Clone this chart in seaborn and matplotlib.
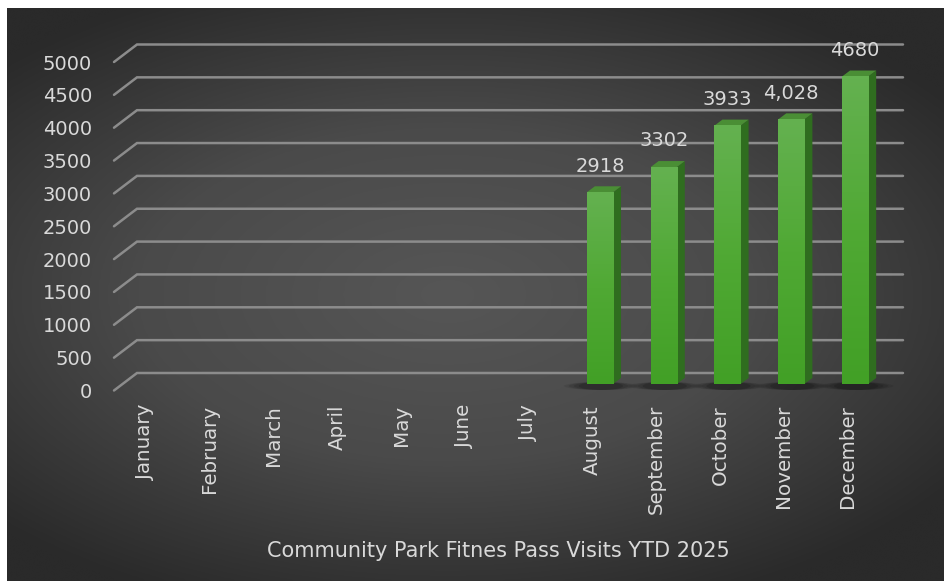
import numpy as np
import pandas as pd
import matplotlib
matplotlib.use("Agg")
import matplotlib.pyplot as plt
import seaborn as sns
from matplotlib.patches import Polygon, Ellipse
from matplotlib.colors import LinearSegmentedColormap
from matplotlib.transforms import ScaledTranslation

# data (Jan-Jul have no value)
months = ["January", "February", "March", "April", "May", "June", "July",
          "August", "September", "October", "November", "December"]
visits = [np.nan] * 7 + [2918, 3302, 3933, 4028, 4680]
value_labels = [""] * 7 + ["2918", "3302", "3933", "4,028", "4680"]
yticks = list(range(0, 5001, 500))
title = "Community Park Fitnes Pass Visits YTD 2025"

df = pd.DataFrame({"Month": months, "Visits": visits})

sns.set_style("white")
plt.rcParams["font.family"] = ["DejaVu Sans"]
txt_c = "#d9d9d9"
grid_c = "#8c8c8c"

W, H = 945, 581
fig = plt.figure(figsize=(W / 100, H / 100), dpi=100, facecolor="white")

# dark radial background
bg = fig.add_axes([7 / W, 0, (W - 7) / W, (H - 8) / H])
yy, xx = np.mgrid[0:1:300j, 0:1:500j]
r = np.sqrt(((xx - 0.47) / 0.85) ** 2 + ((yy - 0.5) / 0.75) ** 2)
bg_cmap = LinearSegmentedColormap.from_list("bg", ["#565656", "#4a4a4a", "#2a2a2a"])
bg.imshow(r, cmap=bg_cmap, vmin=0, vmax=0.78, aspect="auto",
          extent=[0, 1, 0, 1], interpolation="bicubic")
bg.axis("off")

# main axes = plane of the bar front faces
ax = fig.add_axes([121.5 / W, 197 / H, 765.5 / W, 328.5 / H])
ax.patch.set_alpha(0)
sns.barplot(data=df, x="Month", y="Visits", order=months, width=0.41,
            color="#4ea832", saturation=1, errorbar=None, linewidth=0,
            zorder=4, ax=ax)
ax.set_xlim(-0.5, 11.5)
ax.set_ylim(0, 5000)
for s in ax.spines.values():
    s.set_visible(False)
ax.set_xlabel("")
ax.set_ylabel("")

# pixel -> data conversion
p0 = ax.transData.transform((0, 0))
ppx = ax.transData.transform((1, 0))[0] - p0[0]
ppy = (ax.transData.transform((0, 1000))[1] - p0[1]) / 1000

# back-wall gridlines with the little floor diagonal
for t in yticks:
    bx = -0.5 + 15.5 / ppx
    by = t + 11 / ppy
    ax.plot([-0.5 - 7.5 / ppx, bx, 11.5 + 16 / ppx], [t - 6.5 / ppy, by, by],
            color=grid_c, lw=1.8, clip_on=False, zorder=1,
            solid_joinstyle="miter")

# 3d look for the bars
front_cmap = LinearSegmentedColormap.from_list("front", ["#64b150", "#50a934", "#42a026"])
grad = np.linspace(0, 1, 100).reshape(-1, 1)
dx, dy = 8 / ppx, 6 / ppy
bars = ax.containers[0]
for p in bars:
    x0, w, h = p.get_x(), p.get_width(), p.get_height()
    if not np.isfinite(h) or h <= 0:
        continue
    # soft floor shadow
    for k, a in [(48, 0.08), (38, 0.1), (28, 0.12), (18, 0.14)]:
        ax.add_patch(Ellipse((x0 + w / 2 + 1 / ppx, -2 / ppy), w + k / ppx, 8 / ppy,
                             facecolor="black", edgecolor="none", alpha=a,
                             clip_on=False, zorder=2))
    ax.imshow(grad, cmap=front_cmap, extent=[x0, x0 + w, 0, h], aspect="auto",
              zorder=4.5, interpolation="bicubic")
    ax.add_patch(Polygon([(x0 + w, 0), (x0 + w + dx, dy), (x0 + w + dx, h + dy), (x0 + w, h)],
                         closed=True, facecolor="#2f6d1f", edgecolor="none", zorder=4))
    ax.add_patch(Polygon([(x0, h), (x0 + dx, h + dy), (x0 + w + dx, h + dy), (x0 + w, h)],
                         closed=True, facecolor="#4a8e35", edgecolor="none", zorder=4))
ax.set_xlim(-0.5, 11.5)
ax.set_ylim(0, 5000)
ax.set_aspect("auto")

ax.bar_label(bars, labels=value_labels[-len(bars):], padding=12, fontsize=14, color=txt_c)

# ticks sit on the front edge of the floor
ax.set_yticks(yticks)
ax.set_yticklabels([str(t) for t in yticks])
ax.tick_params(axis="y", length=0, pad=15.8, labelsize=14, labelcolor=txt_c)
ax.tick_params(axis="x", length=0, pad=10.4, labelsize=14.3, labelcolor=txt_c, rotation=90)
off = ScaledTranslation(-7.5 / 100, -6.5 / 100, fig.dpi_scale_trans)
for lab in ax.get_yticklabels() + ax.get_xticklabels():
    lab.set_transform(lab.get_transform() + off)

fig.text(498 / W, 1 - 551 / H, title, ha="center", va="center", fontsize=15,
         color=txt_c)

fig.savefig("out.png", dpi=100, facecolor="white")
